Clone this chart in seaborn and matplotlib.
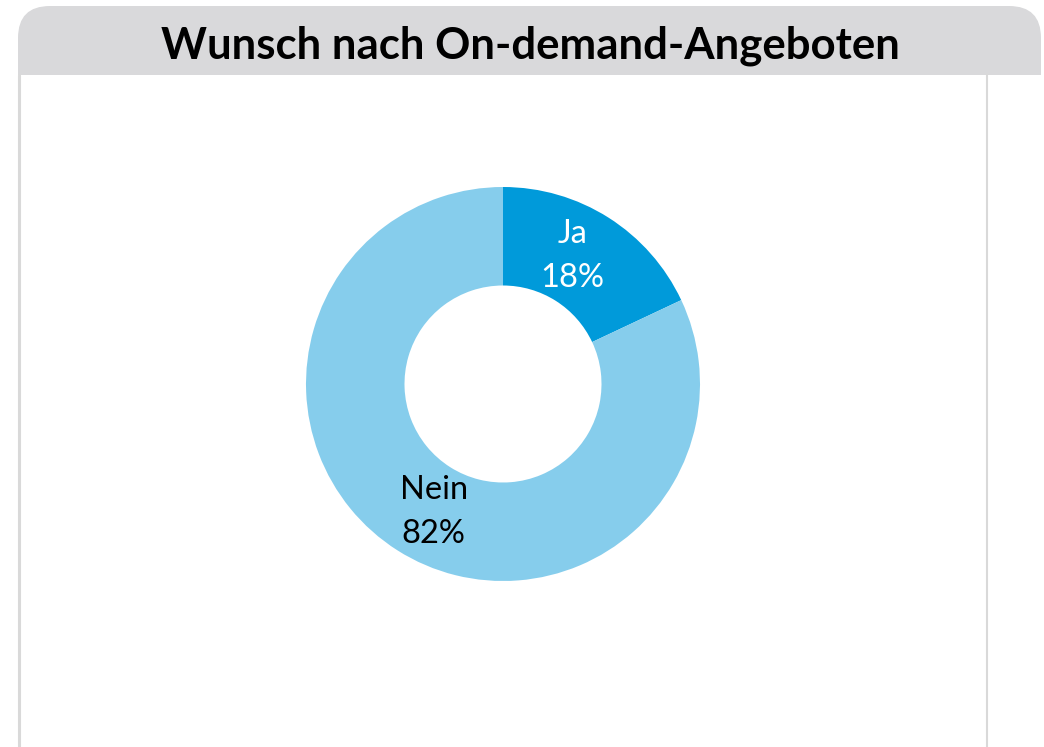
import matplotlib
matplotlib.use("Agg")
import matplotlib.pyplot as plt
import seaborn as sns
from matplotlib.patches import FancyBboxPatch, Rectangle

sns.set_theme(style="white")
plt.rcParams['font.family'] = ['Lato', 'DejaVu Sans']

# data
title = 'Wunsch nach On-demand-Angeboten'
labels = ['Ja', 'Nein']
values = [18, 82]
colors = ['#009ADA', '#86CDEC']
text_colors = ['white', 'black']

W, H = 1044, 747
fig = plt.figure(figsize=(W / 100, H / 100), dpi=100)

# background frame in pixel coordinates
bg = fig.add_axes([0, 0, 1, 1])
bg.set_xlim(0, W)
bg.set_ylim(H, 0)
bg.axis('off')
bg.add_patch(FancyBboxPatch((18, 6), 1023, 120, boxstyle="round,pad=0,rounding_size=32",
                            facecolor='#D9D9DB', edgecolor='none'))
bg.add_patch(Rectangle((18, 75), W, H, facecolor='white', edgecolor='none'))
bg.plot([19, 19], [75, H], color='#D9D9D9', lw=2.2)
bg.plot([987, 987], [75, H], color='#D9D9D9', lw=1.5)
bg.text(530, 46, title, ha='center', va='center', fontsize=31.5, fontweight='bold', color='black')

# donut chart
cx, cy, r = 503, 384, 197
ax = fig.add_axes([(cx - r) / W, (H - cy - r) / H, 2 * r / W, 2 * r / H])
pie_labels = [f'{l}\n{v}%' for l, v in zip(labels, values)]
wedges, texts = ax.pie(values, labels=pie_labels, colors=colors, startangle=94, counterclock=False,
                       radius=1, labeldistance=0.74, wedgeprops=dict(width=0.5, edgecolor='none'),
                       textprops=dict(fontsize=23.5, ha='center', va='center', linespacing=1.6))
for w in wedges:
    w.set_theta1(w.theta1 - 4)
    w.set_theta2(w.theta2 - 4)
for t, c in zip(texts, text_colors):
    t.set_color(c)
ax.set_xlim(-1, 1)
ax.set_ylim(-1, 1)
ax.set_aspect('auto')

fig.savefig('out.png', dpi=100)
